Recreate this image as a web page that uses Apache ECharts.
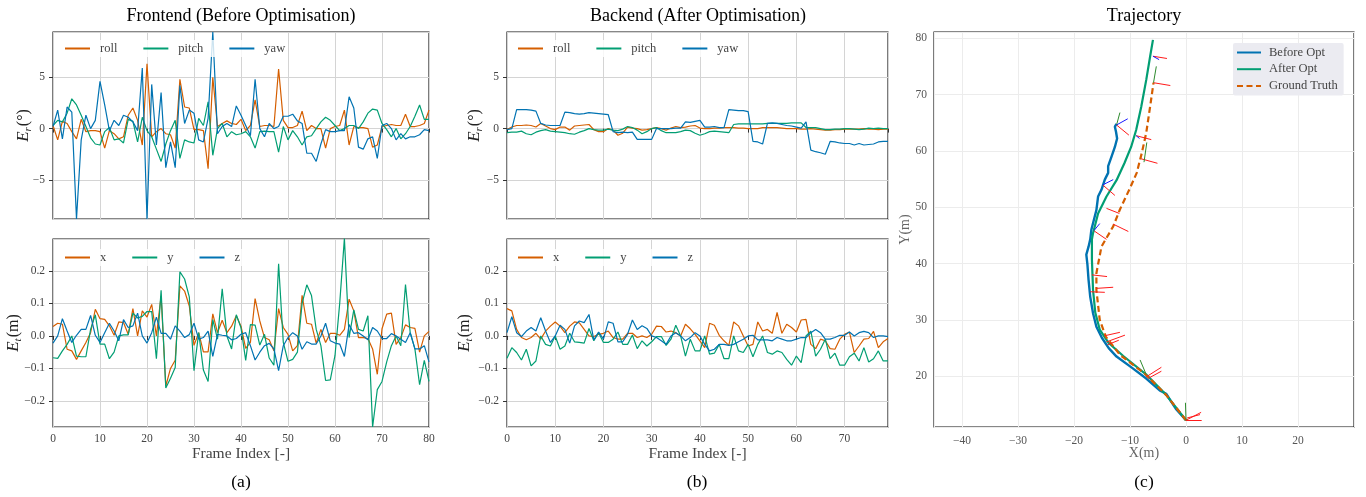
<!DOCTYPE html>
<html><head><meta charset="utf-8">
<script src="https://cdn.jsdelivr.net/npm/echarts@6/dist/echarts.min.js"></script>
<style>html,body{margin:0;padding:0;background:#fff}#c{width:1366px;height:497px}</style>
</head><body><div id="c"></div><script>
// ---------------- DATA ----------------
const frontRoll = [0.3,-1.1,0.7,0.5,-0.3,-1.0,0.9,-0.3,-0.2,-0.2,-0.3,-1.9,-0.2,-0.5,-1.0,-0.8,1.3,2.0,0.8,-1.6,6.3,-0.8,-0.3,0.0,-0.5,-0.6,-1.9,4.8,2.1,2.0,-0.1,-0.1,-0.2,-3.9,5.0,0.2,0.5,0.75,0.5,0.4,0.9,-0.2,0.3,2.8,0.2,0.3,0.3,0.2,5.8,0.8,0.1,0.1,0.3,1.7,-0.2,0.3,0.0,0.0,-1.9,0.0,0.2,0.3,1.8,-1.6,0.2,0.1,0.1,0.0,-1.8,-1.6,0.2,0.3,0.4,0.3,0.3,1.4,0.2,0.2,0.3,0.5,1.8];
const frontPitch = [0.3,0.8,0.65,1.5,2.9,2.3,1.3,0.2,-0.9,-1.5,-1.6,-0.3,0.1,-1.1,-1.0,-1.4,0.9,0.7,-1.3,1.1,-0.2,-0.8,-2.0,-3.2,-1.5,-0.2,0.8,-2.9,-1.1,-1.3,-1.4,1.0,0.3,2.6,-2.6,0.0,0.5,-0.8,-0.3,-0.6,-0.5,-0.3,-0.8,-1.9,-0.3,-0.25,-0.3,-0.3,-2.3,0.2,-1.1,-0.2,-0.8,-1.6,-0.8,-0.7,0.0,0.65,1.1,0.8,0.3,-0.2,0.0,0.3,0.3,0.0,0.65,1.5,1.9,1.8,0.5,-0.1,-0.8,0.0,-1.0,-0.5,0.2,1.2,2.3,0.9,0.9];
const frontYaw = [0.2,1.8,-1.0,2.1,1.6,-8.8,-1.1,1.3,0.0,0.8,4.6,2.3,-0.2,0.8,0.3,1.3,1.1,0.65,-0.2,5.9,-8.8,4.3,-1.6,3.5,-3.8,-1.3,-3.8,4.2,0.5,1.8,1.5,-1.1,-1.3,1.0,9.4,-0.5,0.2,0.5,0.2,2.2,1.3,0.3,-0.7,4.8,0.0,-0.8,0.5,0.0,0.2,1.2,1.2,1.4,0.75,0.5,-2.4,-2.4,-3.2,-1.5,-0.1,-0.3,-0.3,-0.2,-0.2,3.1,2.0,-1.8,-2.0,-1.0,-0.8,-2.9,0.3,0.5,0.0,-1.1,-0.5,-1.0,-0.8,-0.8,-0.6,-0.1,-0.2];
const frontX = [0.029,0.039,0.036,-0.041,-0.046,-0.072,-0.046,-0.02,0.01,0.082,0.053,0.051,0.031,0.002,0.043,0.041,0.005,0.084,0.0,0.077,0.058,0.097,0.0,0.123,-0.154,-0.10,-0.075,0.154,0.138,0.092,-0.029,0.01,-0.049,-0.049,0.068,0.01,0.048,0.01,0.03,0.062,0.03,-0.038,-0.02,0.115,0.046,-0.005,-0.012,-0.046,0.084,0.026,0.005,-0.046,-0.03,0.125,0.039,0.036,-0.022,0.02,-0.02,0.008,0.008,0.002,0.02,0.113,0.077,-0.005,-0.005,-0.008,-0.04,-0.118,0.022,0.067,0.07,-0.026,-0.005,0.034,0.026,0.023,-0.05,0.0,0.014];
const frontY = [-0.067,-0.069,-0.046,-0.026,0.0,-0.062,-0.064,-0.064,0.02,0.065,-0.025,-0.025,-0.07,-0.05,0.0,0.003,0.003,0.07,0.055,0.06,0.075,0.075,-0.07,0.14,-0.16,-0.13,-0.097,0.197,0.175,0.12,-0.107,0.01,-0.105,-0.14,0.05,-0.01,0.145,0.0,-0.04,0.065,0.025,-0.075,0.035,0.033,-0.028,0.005,-0.068,-0.09,0.222,-0.02,-0.078,-0.072,-0.05,0.1,0.157,0.124,0.02,-0.03,-0.137,-0.135,-0.06,0.1,0.3,-0.005,0.08,0.02,0.015,0.062,-0.28,-0.165,-0.14,-0.08,-0.03,0.0,-0.03,0.158,0.01,-0.04,-0.15,-0.075,-0.14];
const frontZ = [-0.022,0.0,0.053,0.015,-0.02,0.002,0.02,0.02,0.063,0.002,-0.02,0.01,0.039,0.015,-0.015,0.05,0.026,0.031,0.07,0.0,-0.022,0.01,0.058,0.008,0.008,-0.01,0.031,0.015,-0.005,0.004,0.039,-0.01,-0.005,0.015,-0.063,0.005,0.002,0.0,-0.012,-0.008,0.005,0.01,-0.03,-0.074,-0.05,-0.03,-0.023,-0.04,-0.107,-0.03,-0.005,0.01,0.0,-0.041,-0.018,-0.025,-0.025,0.0,0.039,-0.015,-0.022,-0.025,-0.063,0.035,0.008,0.01,0.0,-0.012,0.026,0.015,-0.008,-0.008,0.007,0.0,-0.01,-0.02,0.01,-0.04,-0.04,-0.03,-0.08];

const backRoll = [-0.1,0.15,0.3,0.3,0.35,0.3,0.15,0.5,0.25,0.0,-0.1,0.15,0.15,-0.15,0.25,0.3,0.35,0.4,-0.1,-0.3,-0.3,0.0,-0.15,-0.65,-0.45,0.15,0.05,0.0,-0.15,-0.1,0.0,0.1,0.0,-0.15,0.05,0.2,0.1,0.15,0.25,0.3,0.05,0.0,0.0,0.05,0.05,0.1,0.1,0.1,0.05,0.05,0.0,0.0,0.0,0.1,0.1,0.1,0.1,0.05,0.0,0.0,0.0,-0.05,-0.05,0.0,-0.05,-0.1,-0.15,-0.15,-0.1,-0.1,-0.05,-0.05,-0.05,-0.05,0.0,-0.05,-0.05,-0.1,-0.05,-0.05];
const backPitch = [-0.4,-0.35,-0.35,-0.25,-0.5,-0.6,-0.35,-0.2,-0.1,-0.25,-0.3,-0.35,-0.4,-0.5,-0.55,-0.35,-0.2,0.0,-0.1,-0.15,-0.15,-0.05,-0.15,-0.2,-0.05,0.2,0.1,-0.15,-0.5,-0.3,0.0,0.1,-0.2,-0.4,-0.4,-0.4,-0.3,-0.15,-0.2,-0.45,-0.65,-0.5,-0.3,-0.25,-0.3,-0.35,-0.4,0.4,0.45,0.45,0.45,0.45,0.45,0.45,0.5,0.5,0.5,0.5,0.5,0.55,0.55,0.55,0.1,0.1,0.1,0.0,-0.1,-0.1,-0.05,-0.05,0.0,0.0,-0.05,-0.1,-0.05,0.05,0.0,0.05,0.0,0.0];
const backYaw = [-0.1,0.0,1.85,1.85,1.85,1.8,1.7,0.5,0.35,0.3,0.3,0.3,1.6,1.55,1.45,1.4,1.45,1.55,1.5,1.45,1.4,1.35,-0.3,-0.4,-0.35,-0.4,-0.35,-1.05,-1.05,-1.05,-1.05,0.0,0.0,0.0,0.0,0.05,0.05,0.65,0.6,0.7,0.8,0.15,0.15,0.2,0.1,0.1,1.85,1.8,1.75,1.75,1.65,-1.25,-1.3,-1.5,0.5,0.55,0.5,0.4,0.3,0.25,0.15,0.05,0.65,-2.1,-2.25,-2.35,-2.5,-1.25,-1.3,-1.4,-1.45,-1.45,-1.6,-1.45,-1.6,-1.55,-1.5,-1.3,-1.25,-1.25];
const backX = [0.084,0.077,0.02,-0.005,-0.012,-0.005,0.008,-0.01,0.015,0.03,0.043,0.03,0.01,0.03,0.043,0.04,0.02,0.0,-0.002,0.005,0.008,0.015,-0.005,-0.01,-0.01,0.008,0.008,-0.005,0.0,-0.005,0.005,0.03,0.029,0.012,0.015,0.01,0.0,0.036,0.022,0.005,-0.015,-0.036,0.039,0.033,0.002,-0.015,-0.029,0.043,0.031,0.0,-0.031,-0.026,0.043,0.015,0.02,0.008,0.072,0.008,0.036,0.026,0.012,0.049,0.051,-0.026,-0.039,-0.01,-0.015,-0.039,-0.041,-0.01,0.005,0.012,-0.051,-0.031,-0.01,-0.008,0.014,-0.036,-0.018,-0.008];
const backY = [-0.069,-0.036,-0.051,-0.074,-0.041,-0.092,-0.077,0.0,-0.026,-0.031,0.0,-0.041,-0.031,0.008,-0.018,-0.02,-0.022,0.023,-0.015,0.01,-0.02,-0.02,-0.01,0.012,-0.026,-0.026,0.003,-0.039,-0.015,-0.031,-0.018,-0.002,-0.002,-0.029,-0.01,0.033,0.0,-0.062,-0.01,-0.046,-0.046,0.0,-0.056,-0.053,-0.026,-0.07,-0.07,0.0,-0.046,-0.051,-0.026,-0.064,-0.026,0.0,-0.051,-0.056,-0.046,-0.051,-0.072,-0.09,-0.062,-0.082,0.0,0.015,-0.062,-0.041,-0.01,-0.07,-0.053,-0.09,-0.09,-0.064,-0.053,-0.077,-0.036,-0.08,-0.07,-0.046,-0.077,-0.077];
const backZ = [0.01,0.059,0.01,-0.002,0.015,0.026,0.015,0.056,0.015,-0.02,0.0,0.033,0.02,-0.022,0.031,0.046,0.041,0.066,-0.012,0.012,-0.01,0.043,0.039,-0.018,-0.018,0.005,0.049,0.02,0.031,0.023,0.0,-0.005,-0.015,-0.026,0.0,0.01,0.0,-0.015,-0.005,0.01,0.0,-0.026,-0.046,-0.041,-0.026,-0.026,-0.029,-0.026,-0.018,-0.01,0.0,0.002,-0.012,-0.012,-0.012,-0.015,-0.005,-0.01,-0.015,-0.015,-0.01,-0.005,-0.005,0.01,0.02,0.01,-0.01,-0.01,-0.005,0.002,0.002,0.012,0.0,0.01,0.014,0.01,-0.005,0.0,0.0,-0.002];

const beforeX = [0.0,-1.8,-3.55,-4.7,-7.1,-9.5,-12.4,-13.8,-15.0,-16.0,-16.6,-17.1,-17.4,-17.6,-17.8,-17.4,-17.1,-16.9,-16.0,-15.7,-15.1,-14.5,-13.9,-13.9,-13.3,-12.7,-12.3,-12.5,-12.7,-12.4];
const beforeY = [12.2,14.2,16.9,17.5,19.6,21.4,23.5,25.0,26.8,28.8,31.2,34.1,37.1,39.8,41.6,43.0,44.3,46.0,49.5,51.9,53.1,54.9,56.1,57.3,59.0,60.7,62.2,63.4,64.3,64.8];
const afterX = [0.0,-3.55,-7.1,-11.2,-13.8,-15.4,-16.2,-16.6,-16.8,-16.8,-16.6,-15.7,-14.2,-12.4,-11.0,-9.8,-8.9,-8.0,-7.1,-6.4,-5.9];
const afterY = [12.2,16.7,20.3,23.6,25.9,28.3,31.3,35.3,40.7,44.3,45.4,48.9,51.9,54.8,57.8,60.7,63.7,67.8,72.6,76.8,79.7];
const gtX = [0.0,-3.55,-7.4,-11.8,-14.3,-15.4,-16.0,-16.0,-15.1,-13.0,-11.8,-10.0,-8.8,-7.9,-7.1,-6.4,-5.8];
const gtY = [12.2,16.7,20.5,23.8,27.0,30.0,35.3,38.3,43.0,46.6,49.6,53.4,56.1,59.6,63.2,67.9,72.1];
// pose axes [x1, y1, x2, y2]
const redAxes = [[-5.9,76.8,-3.4,76.4],[-5.8,72.1,-2.8,71.6],[-8.9,62.7,-6.2,62.0],[-8.0,58.6,-5.1,57.8],[-12.4,64.6,-10.2,62.8],[-14.8,53.9,-12.7,52.1],[-14.2,49.8,-11.9,48.9],[-13.0,47.0,-10.3,45.7],[-16.4,45.8,-14.2,44.3],[-16.8,38.0,-14.1,37.7],[-16.0,35.6,-13.0,35.8],[-17.1,35.0,-14.5,34.9],[-14.5,27.2,-11.8,27.8],[-14.2,26.1,-10.9,27.3],[-14.0,25.6,-12.0,26.4],[-7.1,19.9,-4.4,21.6],[-6.8,19.6,-4.4,20.9],[0.0,12.2,2.7,13.6],[0.0,12.2,2.8,12.2],[0.2,12.6,2.5,13.2]];
const greenAxes = [[0.0,12.2,-0.1,15.3],[-7.1,20.3,-8.2,22.9],[-12.4,64.6,-11.8,66.8],[-5.8,72.1,-5.3,75.0],[-7.5,58.0,-7.0,61.5]];
const blueAxes = [[-12.4,64.6,-10.4,65.7],[-14.8,54.0,-13.0,54.9],[-16.4,45.9,-15.4,47.1],[-5.9,76.8,-4.8,76.2],[-8.9,62.7,-8.3,62.2]];

const rotNames = ['roll','pitch','yaw'];
const transNames = ['x','y','z'];
const trajNames = ['Before Opt','After Opt','Ground Truth'];

// ---------------- STYLE ----------------
const FONT = "'Liberation Serif','DejaVu Serif',serif";
const C_OR = '#d55e00', C_GR = '#029e73', C_BL = '#0173b2';
const minus = s => String(s).replace('-', '\u2212');

const grids = [
  {left:53, top:32, width:376, height:187},
  {left:53, top:239, width:376, height:188},
  {left:507, top:32, width:381, height:187},
  {left:507, top:239, width:381, height:188},
  {left:934, top:32, width:420, height:395}
].map(g => Object.assign(g, {show:true, borderColor:'#111', borderWidth:1.1, backgroundColor:'#fff', containLabel:false}));

const tickStyle = {show:true, length:4, lineStyle:{color:'#333', width:1}};
const labStyle = {fontFamily:FONT, fontSize:11.5, color:'#444'};
const splitL = {show:true, lineStyle:{color:'#d4d4d4', width:1}};

function xAx(i, max, showLab, hideMax) {
  return {type:'value', gridIndex:i, min:0, max:max, interval:10,
    axisLine:{show:false}, axisTick:tickStyle, splitLine:splitL,
    axisLabel:Object.assign({show:showLab, margin:6, showMaxLabel:!hideMax, formatter:v=>minus(v)}, labStyle),
    name: showLab ? 'Frame Index [-]' : '', nameLocation:'middle', nameGap:19, nameMoveOverlap:false,
    nameTextStyle:{fontFamily:FONT, fontSize:15.5, color:'#444'}};
}
function nameRich(sub, unit) {
  return {name:'{e|E}{s|'+sub+'}{p|('+unit+')}',
    nameTextStyle:{rich:{
      e:{fontFamily:FONT, fontStyle:'italic', fontSize:17, color:'#222'},
      s:{fontFamily:FONT, fontStyle:'italic', fontSize:11, color:'#222', verticalAlign:'bottom', padding:[9,1,0,0]},
      p:{fontFamily:FONT, fontSize:16, color:'#222'}}}};
}
function yRot(i, gap) {
  return Object.assign({type:'value', gridIndex:i, min:-8.8, max:9.4, minInterval:5, maxInterval:5,
    axisLine:{show:false}, axisTick:tickStyle, splitLine:splitL,
    axisLabel:Object.assign({margin:8, showMinLabel:false, showMaxLabel:false, formatter:v=>minus(v)}, labStyle),
    nameLocation:'middle', nameGap:gap, nameMoveOverlap:false}, nameRich('r','\u00b0'));
}
function yTrans(i, gap) {
  return Object.assign({type:'value', gridIndex:i, min:-0.28, max:0.298, minInterval:0.1, maxInterval:0.1,
    axisLine:{show:false}, axisTick:tickStyle, splitLine:splitL,
    axisLabel:Object.assign({margin:8, showMinLabel:false, showMaxLabel:false, formatter:v=>minus((+v).toFixed(1))}, labStyle),
    nameLocation:'middle', nameGap:gap, nameMoveOverlap:false}, nameRich('t','m'));
}

function lineSeries(name, vals, color, idx) {
  return {type:'line', name:name, xAxisIndex:idx, yAxisIndex:idx,
    data: vals.map((v,i)=>[i,v]), symbol:'none', showSymbol:false,
    lineStyle:{color:color, width:1.2}, itemStyle:{color:color}, silent:true, z:2};
}
function trajSeries(name, xs, ys, color, dash, width) {
  return {type:'line', name:name, xAxisIndex:4, yAxisIndex:4,
    data: xs.map((x,i)=>[x, ys[i]]), symbol:'none', showSymbol:false,
    lineStyle:{color:color, width:width, type: dash ? [6,3.5] : 'solid'}, itemStyle:{color:color}, silent:true, z:3};
}
function axesSeries(segs, color) {
  return {type:'lines', coordinateSystem:'cartesian2d', xAxisIndex:4, yAxisIndex:4,
    data: segs.map(s=>({coords:[[s[0],s[1]],[s[2],s[3]]]})),
    lineStyle:{color:color, width:1, opacity:1, curveness:0}, silent:true, z:4};
}

function legendFor(names, left, top) {
  return {data:names, left:left, top:top, itemWidth:25, itemHeight:14, itemGap:25,
    selectedMode:false, backgroundColor:'rgba(255,255,255,0.8)', padding:[2,2],
    itemStyle:{opacity:0},
    textStyle:{fontFamily:FONT, fontSize:12.5, color:'#444', padding:[0,0,0,5]}};
}

const trajTick = {fontFamily:FONT, fontSize:11.5, color:'#555'};
const option = {
  animation:false,
  grid: grids,
  xAxis:[xAx(0,80,false,false), xAx(1,80,true,false), xAx(2,79,false,true), xAx(3,79,true,true),
    {type:'value', gridIndex:4, min:-45, max:30, minInterval:10, maxInterval:10, splitNumber:8,
     axisLine:{show:false}, axisTick:{show:false}, splitLine:{show:true, lineStyle:{color:'#ececec', width:1}},
     axisLabel:Object.assign({margin:8, showMinLabel:false, showMaxLabel:false, formatter:v=>minus(v)}, trajTick),
     name:'X(m)', nameLocation:'middle', nameGap:19, nameMoveOverlap:false, nameTextStyle:{fontFamily:FONT, fontSize:14, color:'#666'}}],
  yAxis:[yRot(0,19), yTrans(1,29), yRot(2,22), yTrans(3,32),
    {type:'value', gridIndex:4, min:11, max:81.1, minInterval:10, maxInterval:10, splitNumber:7,
     axisLine:{show:false}, axisTick:{show:false}, splitLine:{show:true, lineStyle:{color:'#ececec', width:1}},
     axisLabel:Object.assign({margin:7, showMinLabel:false, showMaxLabel:false}, trajTick),
     name:'Y(m)', nameLocation:'middle', nameGap:22, nameMoveOverlap:false, nameTextStyle:{fontFamily:FONT, fontSize:14, color:'#666'}}],
  legend:[
    legendFor(rotNames, 62, 40), legendFor(transNames, 62, 249),
    legendFor(rotNames, 515, 40), legendFor(transNames, 515, 249),
    {data:trajNames, left:1233, top:43, orient:'vertical', itemWidth:24, itemHeight:12, itemGap:3.7,
     selectedMode:false, backgroundColor:'#ebebf1', borderRadius:2, padding:[3,6,3,3],
     itemStyle:{opacity:0},
     textStyle:{fontFamily:FONT, fontSize:12.5, color:'#444', padding:[0,0,0,3]}}
  ],
  series:[
    lineSeries('roll', frontRoll, C_OR, 0), lineSeries('pitch', frontPitch, C_GR, 0), lineSeries('yaw', frontYaw, C_BL, 0),
    lineSeries('x', frontX, C_OR, 1), lineSeries('y', frontY, C_GR, 1), lineSeries('z', frontZ, C_BL, 1),
    lineSeries('roll', backRoll, C_OR, 2), lineSeries('pitch', backPitch, C_GR, 2), lineSeries('yaw', backYaw, C_BL, 2),
    lineSeries('x', backX, C_OR, 3), lineSeries('y', backY, C_GR, 3), lineSeries('z', backZ, C_BL, 3),
    trajSeries('Before Opt', beforeX, beforeY, C_BL, false, 2.4),
    trajSeries('After Opt', afterX, afterY, C_GR, false, 2.2),
    trajSeries('Ground Truth', gtX, gtY, C_OR, true, 2.2),
    axesSeries(redAxes, '#ff1a1a'), axesSeries(greenAxes, '#2e8b2e'), axesSeries(blueAxes, '#1a1aff')
  ],
  graphic:[
    {type:'text', x:241, y:16, style:{text:'Frontend (Before Optimisation)', fontFamily:FONT, fontSize:18, fill:'#000', align:'center', verticalAlign:'middle', textAlign:'center', textVerticalAlign:'middle'}},
    {type:'text', x:698, y:16, style:{text:'Backend (After Optimisation)', fontFamily:FONT, fontSize:18, fill:'#000', align:'center', verticalAlign:'middle', textAlign:'center', textVerticalAlign:'middle'}},
    {type:'text', x:1144, y:16, style:{text:'Trajectory', fontFamily:FONT, fontSize:18, fill:'#000', align:'center', verticalAlign:'middle', textAlign:'center', textVerticalAlign:'middle'}},
    {type:'text', x:241, y:482, style:{text:'(a)', fontFamily:FONT, fontSize:17.5, fill:'#000', align:'center', verticalAlign:'middle', textAlign:'center', textVerticalAlign:'middle'}},
    {type:'text', x:697, y:482, style:{text:'(b)', fontFamily:FONT, fontSize:17.5, fill:'#000', align:'center', verticalAlign:'middle', textAlign:'center', textVerticalAlign:'middle'}},
    {type:'text', x:1144, y:482, style:{text:'(c)', fontFamily:FONT, fontSize:17.5, fill:'#000', align:'center', verticalAlign:'middle', textAlign:'center', textVerticalAlign:'middle'}}
  ]
};
const chart = echarts.init(document.getElementById('c'), null, {renderer:'canvas'});
chart.setOption(option);
</script></body></html>
